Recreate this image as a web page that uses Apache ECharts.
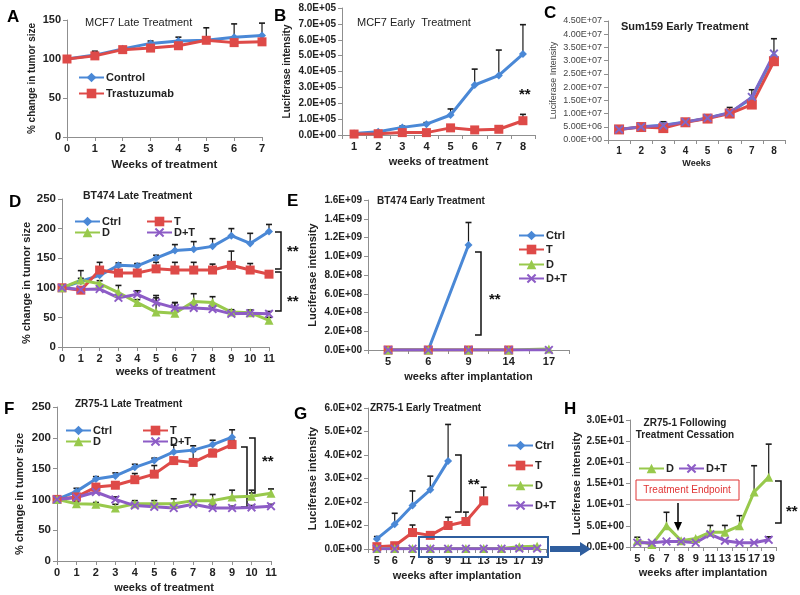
<!DOCTYPE html>
<html><head><meta charset="utf-8">
<script src="https://cdn.jsdelivr.net/npm/echarts@6/dist/echarts.min.js"></script>
<style>html,body{margin:0;padding:0;background:#fff}#c{width:800px;height:595px}</style>
</head><body><div id="c"></div>
<script>
// ---------- DATA ----------
// Panel A: MCF7 Late Treatment
const weeksA = ['0','1','2','3','4','5','6','7'];
const aControl = [100,105,113,120,123,124,128,130];
const aControlErr = [0,5,2,3,5,16,17,16];
const aTrast = [100,104,112,114,117,124,121,122];
const aTrastErr = [0,3,2,3,3,3,3,3];
// Panel B: MCF7 Early Treatment
const weeksB = ['1','2','3','4','5','6','7','8'];
const bControl = [10000,20000,48000,68000,126000,315000,375000,510000];
const bControlErr = [3000,5000,8000,10000,38000,100000,160000,185000];
const bTrast = [6000,8000,15000,15000,45000,32000,36000,90000];
const bTrastErr = [2000,2000,3000,3000,8000,6000,6000,40000];
// Panel C: Sum159 Early Treatment
const weeksC = ['1','2','3','4','5','6','7','8'];
const cBlue = [4.0e6,5.0e6,5.6e6,6.8e6,8.3e6,1.03e7,1.58e7,3.2e7];
const cPurple = [4.0e6,5.0e6,5.5e6,6.8e6,8.3e6,1.03e7,1.63e7,3.27e7];
const cPurpleErr = [0,0,1.4e6,0,0,2.0e6,2.7e6,5.6e6];
const cRed = [4.0e6,4.9e6,4.5e6,6.7e6,8.1e6,1.0e7,1.34e7,2.98e7];
// Panel D: BT474 Late Treatment
const weeksD = ['0','1','2','3','4','5','6','7','8','9','10','11'];
const dCtrl = [100,111,121,138,137,150,163,165,170,188,175,195];
const dCtrlErr = [0,5,4,4,4,5,10,13,13,12,17,12];
const dT = [100,96,130,125,125,132,130,130,130,138,130,123];
const dTErr = [0,4,13,11,15,11,13,13,10,24,11,4];
const dD = [100,113,107,92,75,59,57,77,75,59,58,45];
const dDErr = [0,16,5,12,5,28,18,13,10,4,4,5];
const dDT = [100,97,98,83,89,75,66,66,64,56,57,56];
const dDTErr = [0,3,3,5,6,8,9,5,4,4,5,4];
// Panel E: BT474 Early Treatment
const weeksE = ['5','6','9','14','17'];
const eCtrl = [0,0,1.12e9,null,null];
const eCtrlErr = [0,0,2.4e8,0,0];
const eT = [0,0,0,0,null];
const eD = [0,0,0,0,1.2e7];
const eDT = [0,0,0,0,0];
// Panel F: ZR75-1 Late Treatment
const weeksF = ['0','1','2','3','4','5','6','7','8','9','10','11'];
const fCtrl = [100,113,133,138,152,163,177,180,189,201,null,null];
const fCtrlErr = [0,5,4,5,5,4,11,7,7,12,0,0];
const fT = [100,104,120,123,132,141,163,160,175,189,null,null];
const fTErr = [0,4,4,4,10,14,4,18,6,7,0,0];
const fD = [100,93,92,86,93,93,93,98,98,104,105,110];
const fDErr = [0,3,3,6,5,5,8,10,10,11,10,7];
const fDT = [100,103,112,100,90,88,86,92,86,86,87,89];
const fDTErr = [0,3,3,4,3,3,3,3,3,3,3,3];
// Panel G: ZR75-1 Early Treatment
const weeksG = ['5','6','7','8','9','11','13','15','17','19'];
const gCtrl = [43,105,185,252,375,null,null,null,null,null];
const gCtrlErr = [10,47,62,58,155,0,0,0,0,0];
const gT = [10,14,70,58,100,117,205,null,null,null];
const gTErr = [0,0,32,0,35,40,58,0,0,0];
const gD = [2,2,2,2,2,2,2,2,10,12];
const gDT = [1,1,1,1,1,1,1,1,2,2];
// Panel H: ZR75-1 Following Treatment Cessation
const weeksH = ['5','6','7','8','9','11','13','15','17','19'];
const hD = [1.5,0.6,5.0,1.5,2.0,3.5,3.5,5.0,13.0,16.5];
const hDErr = [0.8,0,3.2,0,0,1.6,1.6,2.4,6.2,7.8];
const hDT = [1.0,1.0,1.3,1.3,1.0,3.0,1.5,1.0,1.0,1.7];
const hDTErr = [0,0,0,0,0,0,0,0,0,0.7];

// ---------- STYLE ----------
const FONT = "'Liberation Sans', Arial, sans-serif";
const BLUE = '#4A88D6', RED = '#DE4A48', GREEN = '#98C94C', PURPLE = '#8D5CC6', CPURPLE = '#7E68C8';
const XSYM = 'path://M0,1.5L1.5,0L5,3.5L8.5,0L10,1.5L6.5,5L10,8.5L8.5,10L5,6.5L1.5,10L0,8.5L3.5,5Z';
const sym = {blue:['diamond',8,BLUE], red:['rect',9,RED], green:['triangle',9,GREEN], purple:[XSYM,9,PURPLE]};

function sci(d){
  return v => {
    if (v === 0) return (0).toFixed(d) + 'E+00';
    const e = Math.floor(Math.log10(Math.abs(v)) + 1e-9);
    const m = v / Math.pow(10, e);
    return m.toFixed(d) + 'E+' + String(e).padStart(2, '0');
  };
}

const grids = [
  {left:67, top:20, width:195, height:117},
  {left:342, top:8, width:193, height:127},
  {left:608, top:21, width:177, height:119},
  {left:62, top:199, width:207, height:148},
  {left:368, top:200, width:201, height:150},
  {left:57, top:407, width:214, height:154},
  {left:368, top:408, width:178, height:141},
  {left:630, top:420, width:146, height:127}
];

const AX = '#8f8f8f';
function xAx(gi, cats, gap, name, nameGap, fs, nfs){
  return {type:'category', gridIndex:gi, data:cats, boundaryGap:gap,
    axisLine:{lineStyle:{color:AX, width:1}},
    axisTick:{show:true, length:4, lineStyle:{color:AX}},
    axisLabel:{fontFamily:FONT, fontWeight:'bold', fontSize:fs||11, color:'#222', margin:6, interval:0},
    name:name, nameLocation:'middle', nameGap:nameGap,
    nameTextStyle:{fontFamily:FONT, fontWeight:'bold', fontSize:nfs||11, color:'#222'}};
}
function yAx(gi, max, interval, fmt, name, nameGap, fs, nfs, extra){
  const o = {type:'value', gridIndex:gi, min:0, max:max, interval:interval,
    axisLine:{show:true, lineStyle:{color:AX, width:1}},
    axisTick:{show:true, length:4, lineStyle:{color:AX}},
    splitLine:{show:false},
    axisLabel:{fontFamily:FONT, fontWeight:'bold', fontSize:fs||11, color:'#222', margin:6, formatter:fmt},
    name:name, nameLocation:'middle', nameGap:nameGap, nameRotate:90,
    nameTextStyle:{fontFamily:FONT, fontWeight:'bold', fontSize:nfs||11, color:'#222'}};
  if (extra) Object.assign(o.axisLabel, extra.label||{}), Object.assign(o.nameTextStyle, extra.name||{});
  return o;
}

function line(name, data, kind, gi, lw){
  const s = sym[kind];
  return {type:'line', name:name, data:data, xAxisIndex:gi, yAxisIndex:gi,
    symbol:s[0], symbolSize:s[1], color:s[2], showSymbol:true,
    lineStyle:{color:s[2], width:lw||3}, itemStyle:{color:s[2]},
    z:3, animation:false, connectNulls:false};
}
function err(vals, errs, gi){
  const data = [];
  vals.forEach((v,i) => { if (v != null && errs[i] > 0) data.push([i, v, errs[i]]); });
  return {type:'custom', xAxisIndex:gi, yAxisIndex:gi, data:data, z:2, animation:false,
    encode:{x:0, y:1}, silent:true,
    renderItem:function(params, api){
      const x = api.value(0), y = api.value(1), e = api.value(2);
      const p0 = api.coord([x, y]), p1 = api.coord([x, y + e]);
      return {type:'group', children:[
        {type:'line', shape:{x1:p0[0], y1:p0[1], x2:p1[0], y2:p1[1]}, style:{stroke:'#1a1a1a', lineWidth:1.2}},
        {type:'line', shape:{x1:p1[0]-3, y1:p1[1], x2:p1[0]+3, y2:p1[1]}, style:{stroke:'#1a1a1a', lineWidth:1.6}}
      ]};
    }};
}

function leg(name, left, cy){
  return {data:[name], left:left, top:cy-7, itemWidth:25, itemHeight:12, itemGap:0, selectedMode:false,
    textStyle:{fontFamily:FONT, fontWeight:'bold', fontSize:11, color:'#222', padding:[0,0,0,-3]}};
}

function ttl(text, left, cy, bold, fs, extra){
  return Object.assign({text:text, left:left, top:cy - (fs||11)/2 - 1, padding:0,
    textStyle:{fontFamily:FONT, fontWeight:bold ? 'bold' : 'normal', fontSize:fs||11, color:'#222'}}, extra||{});
}

function bracket(x, y1, y2){
  return {type:'polyline', shape:{points:[[x-6,y1],[x,y1],[x,y2],[x-6,y2]]}, style:{stroke:'#111', lineWidth:1.5, fill:null}};
}
function stars(x, y){
  return {type:'text', left:x, top:y-8, style:{text:'**', font:'bold 15px ' + FONT, fill:'#111'}};
}
function letter(t, x, cy){
  return {type:'text', left:x, top:cy-9, style:{text:t, font:'bold 17px ' + FONT, fill:'#000'}};
}

const option = {
  animation:false,
  backgroundColor:'#fff',
  grid: grids.map(g => Object.assign({containLabel:false}, g)),
  xAxis: [
    xAx(0, weeksA, false, 'Weeks of treatment', 22, 11, 11.5),
    xAx(1, weeksB, true, 'weeks of treatment', 21, 11, 11),
    xAx(2, weeksC, true, 'Weeks', 19, 10, 9),
    xAx(3, weeksD, false, 'weeks of treatment', 19, 11, 11),
    xAx(4, weeksE, true, 'weeks after implantation', 21, 11, 11),
    xAx(5, weeksF, false, 'weeks of treatment', 21, 11, 11),
    xAx(6, weeksG, true, 'weeks after implantation', 21, 11, 11),
    xAx(7, weeksH, true, 'weeks after implantation', 20, 11, 11)
  ],
  yAxis: [
    yAx(0, 150, 50, null, '% change in tumor size', 30, 11, 10),
    yAx(1, 800000, 100000, sci(1), 'Luciferase intensity', 50, 10, 10),
    yAx(2, 45000000, 5000000, sci(2), 'Luciferase Intensity', 50, 9, 9, {label:{fontWeight:'normal', color:'#444'}, name:{fontWeight:'normal', color:'#444'}}),
    yAx(3, 250, 50, null, '% change in tumor size', 27, 11.5, 11, {name:{padding:[0,20,0,0]}}),
    yAx(4, 1600000000, 200000000, sci(1), 'Luciferase intensity', 50, 10, 11),
    yAx(5, 250, 50, null, '% change in tumor size', 32, 11.5, 11, {name:{padding:[0,20,0,0]}}),
    yAx(6, 600, 100, sci(1), 'Luciferase intensity', 50, 10, 11),
    yAx(7, 30, 5, sci(1), 'Luciferase intensity', 45, 10, 11)
  ],
  legend: [
    leg('Control', 73, 74), leg('Trastuzumab', 73, 90),
    leg('Ctrl', 69, 218), leg('T', 141, 218), leg('D', 69, 229), leg('D+T', 141, 229),
    leg('Ctrl', 513, 232), leg('T', 513, 246), leg('D', 513, 261), leg('D+T', 513, 275),
    leg('Ctrl', 60, 427), leg('T', 137, 427), leg('D', 60, 438), leg('D+T', 137, 438),
    leg('Ctrl', 502, 442), leg('T', 502, 462), leg('D', 502, 482), leg('D+T', 502, 502),
    leg('D', 633, 465), leg('D+T', 673, 465)
  ],
  title: [
    ttl('MCF7 Late Treatment', 85, 24, false, 11),
    ttl('MCF7 Early  Treatment', 357, 24, false, 11),
    ttl('Sum159 Early Treatment', 621, 28, true, 11),
    ttl('BT474 Late Treatment', 83, 197, true, 10.5),
    ttl('BT474 Early Treatment', 377, 202, true, 10),
    ttl('ZR75-1 Late Treatment', 75, 405, true, 10),
    ttl('ZR75-1 Early Treatment', 370, 409, true, 10),
    ttl('ZR75-1 Following\nTreatment Cessation', 685, 423, true, 10, {textAlign:'center', textStyle:{fontFamily:FONT, fontWeight:'bold', fontSize:10, color:'#222', lineHeight:12, align:'center'}})
  ],
  series: [
    // A
    err(aControl, aControlErr, 0), err(aTrast, aTrastErr, 0),
    line('Control', aControl, 'blue', 0), line('Trastuzumab', aTrast, 'red', 0),
    // B
    err(bControl, bControlErr, 1), err(bTrast, bTrastErr, 1),
    line('Control', bControl, 'blue', 1), line('Trastuzumab', bTrast, 'red', 1),
    // C
    err(cPurple, cPurpleErr, 2),
    Object.assign(line('C-blue', cBlue, 'blue', 2), {symbolSize:7}),
    Object.assign(line('C-red', cRed, 'red', 2), {symbolSize:10}),
    Object.assign(line('C-purple', cPurple, 'purple', 2), {color:CPURPLE, lineStyle:{color:CPURPLE, width:2.5}, itemStyle:{color:CPURPLE}}),
    // D
    err(dCtrl, dCtrlErr, 3), err(dT, dTErr, 3), err(dD, dDErr, 3), err(dDT, dDTErr, 3),
    line('Ctrl', dCtrl, 'blue', 3), line('T', dT, 'red', 3), line('D', dD, 'green', 3), line('D+T', dDT, 'purple', 3),
    // E
    err(eCtrl, eCtrlErr, 4),
    line('Ctrl', eCtrl, 'blue', 4), line('T', eT, 'red', 4), line('D', eD, 'green', 4), line('D+T', eDT, 'purple', 4),
    // F
    err(fCtrl, fCtrlErr, 5), err(fT, fTErr, 5), err(fD, fDErr, 5), err(fDT, fDTErr, 5),
    line('Ctrl', fCtrl, 'blue', 5), line('T', fT, 'red', 5), line('D', fD, 'green', 5), line('D+T', fDT, 'purple', 5),
    // G
    err(gCtrl, gCtrlErr, 6), err(gT, gTErr, 6),
    line('Ctrl', gCtrl, 'blue', 6), line('T', gT, 'red', 6), line('D', gD, 'green', 6), line('D+T', gDT, 'purple', 6),
    // H
    err(hD, hDErr, 7), err(hDT, hDTErr, 7),
    line('D', hD, 'green', 7), line('D+T', hDT, 'purple', 7)
  ],
  graphic: [
    letter('A', 7, 18), letter('B', 274, 17), letter('C', 544, 14), letter('D', 9, 203),
    letter('E', 287, 202), letter('F', 4, 410), letter('G', 294, 415), letter('H', 564, 410),
    stars(519, 95),
    bracket(281, 232, 269), stars(287, 252), bracket(281, 272, 311), stars(287, 302),
    bracket(481, 252, 335), stars(489, 300),
    bracket(255, 438, 493), bracket(247, 447, 507), stars(262, 462),
    bracket(461, 455, 512), stars(468, 485),
    bracket(781, 481, 523), stars(786, 512),
    {type:'rect', shape:{x:419, y:537, width:129, height:20}, style:{stroke:'#2F5E9E', lineWidth:2, fill:null}, z:10},
    {type:'polygon', shape:{points:[[550,546],[580,546],[580,542],[591,549],[580,556],[580,552],[550,552]]}, style:{fill:'#2F5E9E'}, z:10},
    {type:'rect', shape:{x:636, y:480, width:103, height:20}, style:{stroke:'#E03434', lineWidth:1, fill:'#fff'}, z:10},
    {type:'text', x:687, y:490, style:{text:'Treatment Endpoint', font:'10px ' + FONT, fill:'#E03434', align:'center', verticalAlign:'middle'}, z:11},
    {type:'line', shape:{x1:678, y1:503, x2:678, y2:524}, style:{stroke:'#000', lineWidth:1.5}, z:10},
    {type:'polygon', shape:{points:[[674,522],[682,522],[678,531]]}, style:{fill:'#000'}, z:10}
  ]
};

const chart = echarts.init(document.getElementById('c'), null, {renderer:'canvas', width:800, height:595});
chart.setOption(option);
</script>
</body></html>
